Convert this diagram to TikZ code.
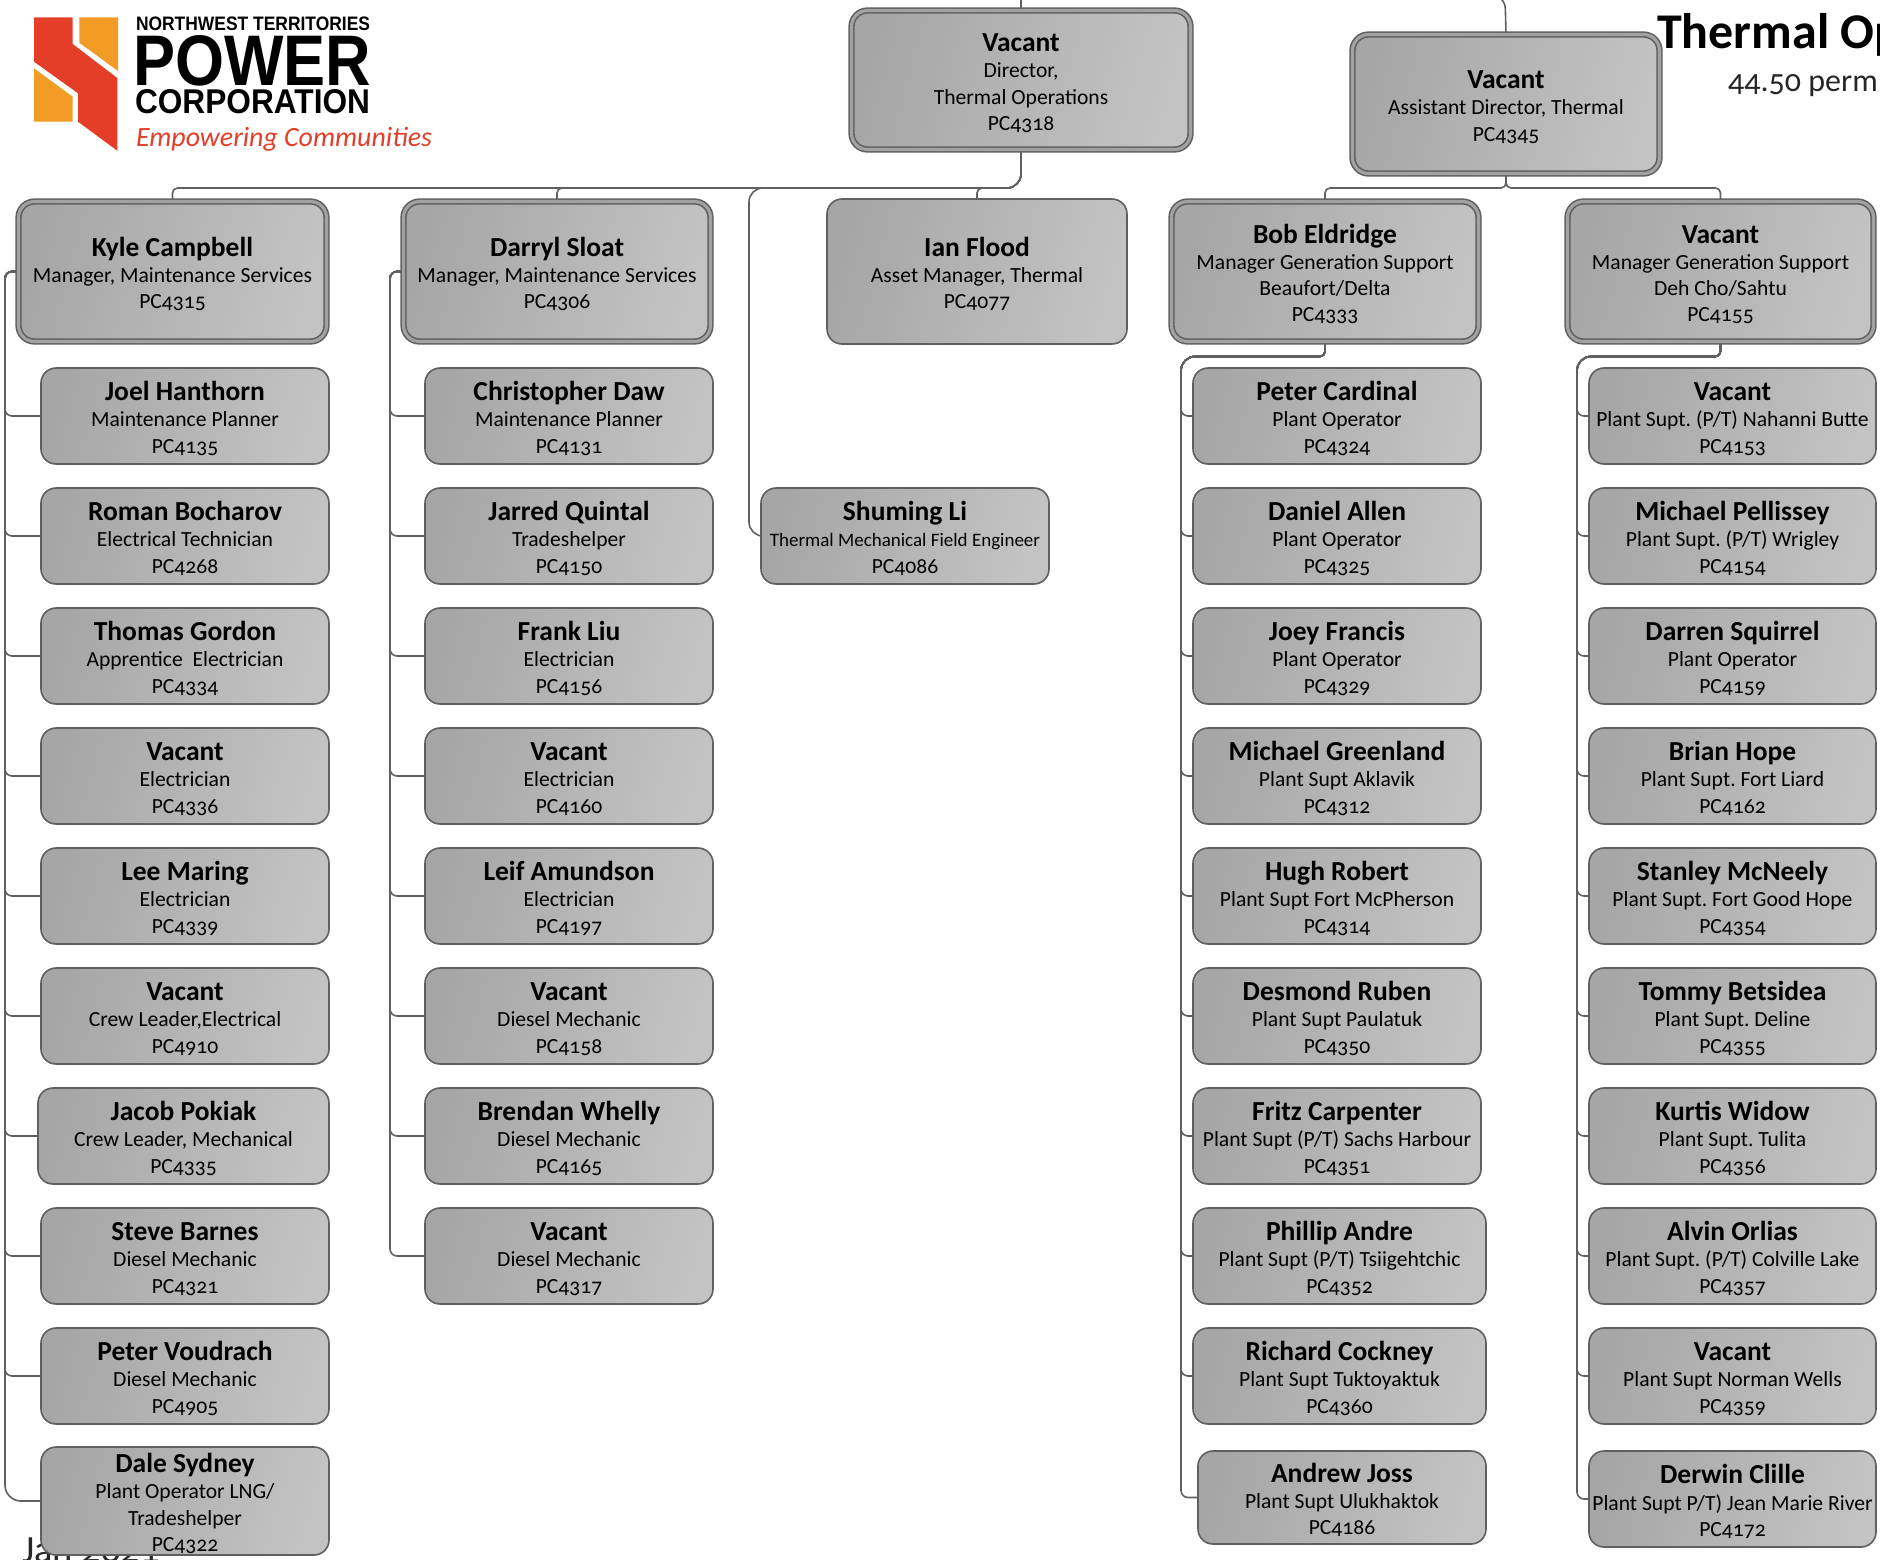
\documentclass[tikz,border=0pt]{standalone}
\usepackage{fontspec}
\setmainfont{Carlito}[Numbers=OldStyle]
\newfontfamily\logofont{Liberation Sans}
\usetikzlibrary{backgrounds}
\definecolor{framec}{HTML}{606060}
\definecolor{ringc}{HTML}{A2A2A2}
\definecolor{shadeL}{HTML}{A6A6A6}
\definecolor{shadeR}{HTML}{C3C3C3}
\definecolor{logored}{HTML}{E43D28}
\definecolor{logoorange}{HTML}{F39C25}
\newcommand{\nm}[1]{{\rule{0pt}{24pt}\fontsize{27.5}{26}\selectfont\bfseries #1}}
\tikzset{
  x=1pt,y=-1pt,
  orgbox/.style={draw=framec,line width=1.6pt,rounded corners=15pt,left color=shadeL,right color=shadeR,shading angle=75,
    inner sep=0pt,outer sep=0pt,align=center,text=black,font=\fontsize{21.6}{26.2}\selectfont\frenchspacing},
  parentbox/.style={orgbox,rounded corners=16pt,double=ringc,double distance=3.1pt},
  conn/.style={draw=framec,line width=1.6pt},
  logotext/.style={inner sep=0pt,outer sep=0pt,anchor=north west},
}
% id x1 y1 x2 y2 text
\newcommand{\cb}[6]{\node[orgbox,minimum width={(#4-#2)*1pt},minimum height={(#5-#3)*1pt}] (#1) at ({(#2+#4)/2},{(#3+#5)/2}) {#6};}
\newcommand{\pb}[6]{\node[parentbox,minimum width={(#4-#2-5)*1pt},minimum height={(#5-#3-5)*1pt}] (#1) at ({(#2+#4)/2},{(#3+#5)/2}) {#6};}
\begin{document}
\begin{tikzpicture}
\useasboundingbox (0,0) rectangle (1880,1559);
% logo
\fill[logored] (34,17.3) -- (72.7,17.3) -- (72.7,44) -- (117.3,78) -- (117.3,150.7) -- (78,121.7) -- (78,93.3) -- (34,61.7) -- cycle;
\fill[logoorange] (79.3,17.3) -- (118,17.3) -- (118,71) -- (79.3,42.7) -- cycle;
\fill[logoorange] (34,68.3) -- (72.7,96.7) -- (72.7,121.7) -- (34,121.7) -- cycle;
\node[logotext] (lg1) at (136,17.3) {\resizebox{234pt}{13.6pt}{\logofont\bfseries NORTHWEST TERRITORIES}};
\node[logotext] (lg2) at (133,35) {\resizebox{238pt}{50pt}{\logofont\bfseries POWER}};
\node[logotext] (lg3) at (135,89) {\resizebox{235pt}{24pt}{\logofont\bfseries CORPORATION}};
\node[logotext,text=logored,anchor=west] (lg4) at (136,139) {\resizebox{296pt}{!}{\itshape Empowering Communities}};
% title
\node[inner sep=0pt,anchor=base west,font=\fontsize{50}{54}\selectfont\bfseries] (title) at (1657,48) {Thermal Op};
\node[inner sep=0pt,anchor=base west,font=\fontsize{32}{36}\selectfont,text=black!85] (perm) at (1728,91) {44.50 perm};
\node[inner sep=0pt,anchor=base west,font=\fontsize{38.5}{42}\selectfont,text=black!85] (jan) at (22,1562) {Jan 2021};
% top
\pb{dir}{849}{8}{1193}{152}{\nm{Vacant}\\Director,\\Thermal Operations\\PC4318}
\pb{asst}{1350}{32}{1662}{176}{\nm{Vacant}\\Assistant Director, Thermal\\PC4345}
% managers
\pb{kyle}{16}{199}{329}{344}{\nm{Kyle Campbell}\\Manager, Maintenance Services\\PC4315}
\pb{darryl}{401}{199}{713}{344}{\nm{Darryl Sloat}\\Manager, Maintenance Services\\PC4306}
\cb{ian}{827}{199}{1127}{344}{\nm{Ian Flood}\\Asset Manager, Thermal\\PC4077}
\pb{bob}{1169}{199}{1481}{344}{\nm{Bob Eldridge}\\Manager Generation Support\\Beaufort/Delta\\PC4333}
\pb{vac}{1565}{199}{1876}{344}{\nm{Vacant}\\Manager Generation Support\\Deh Cho/Sahtu\\PC4155}
% column 1
\cb{a1}{41}{368}{329}{464}{\nm{Joel Hanthorn}\\Maintenance Planner\\PC4135}
\cb{a2}{41}{488}{329}{584}{\nm{Roman Bocharov}\\Electrical Technician\\PC4268}
\cb{a3}{41}{608}{329}{704}{\nm{Thomas Gordon}\\Apprentice\ \ Electrician\\PC4334}
\cb{a4}{41}{728}{329}{824}{\nm{Vacant}\\Electrician\\PC4336}
\cb{a5}{41}{848}{329}{944}{\nm{Lee Maring}\\Electrician\\PC4339}
\cb{a6}{41}{968}{329}{1064}{\nm{Vacant}\\Crew Leader,Electrical\\PC4910}
\cb{a7}{38}{1088}{329}{1184}{\nm{Jacob Pokiak}\\Crew Leader, Mechanical\\PC4335}
\cb{a8}{41}{1208}{329}{1304}{\nm{Steve Barnes}\\Diesel Mechanic\\PC4321}
\cb{a9}{41}{1328}{329}{1424}{\nm{Peter Voudrach}\\Diesel Mechanic\\PC4905}
\cb{a10}{41}{1447}{329}{1555}{\nm{Dale Sydney}\\Plant Operator LNG/\\Tradeshelper\\PC4322}
% column 2
\cb{b1}{425}{368}{713}{464}{\nm{Christopher Daw}\\Maintenance Planner\\PC4131}
\cb{b2}{425}{488}{713}{584}{\nm{Jarred Quintal}\\Tradeshelper\\PC4150}
\cb{b3}{425}{608}{713}{704}{\nm{Frank Liu}\\Electrician\\PC4156}
\cb{b4}{425}{728}{713}{824}{\nm{Vacant}\\Electrician\\PC4160}
\cb{b5}{425}{848}{713}{944}{\nm{Leif Amundson}\\Electrician\\PC4197}
\cb{b6}{425}{968}{713}{1064}{\nm{Vacant}\\Diesel Mechanic\\PC4158}
\cb{b7}{425}{1088}{713}{1184}{\nm{Brendan Whelly}\\Diesel Mechanic\\PC4165}
\cb{b8}{425}{1208}{713}{1304}{\nm{Vacant}\\Diesel Mechanic\\PC4317}
% Shuming
\cb{shu}{761}{488}{1049}{584}{\nm{Shuming Li}\\{\fontsize{19}{26.2}\selectfont Thermal Mechanical Field Engineer}\\PC4086}
% column 4
\cb{d1}{1193}{368}{1481}{464}{\nm{Peter Cardinal}\\Plant Operator\\PC4324}
\cb{d2}{1193}{488}{1481}{584}{\nm{Daniel Allen}\\Plant Operator\\PC4325}
\cb{d3}{1193}{608}{1481}{704}{\nm{Joey Francis}\\Plant Operator\\PC4329}
\cb{d4}{1193}{728}{1481}{824}{\nm{Michael Greenland}\\Plant Supt Aklavik\\PC4312}
\cb{d5}{1193}{848}{1481}{944}{\nm{Hugh Robert}\\Plant Supt Fort McPherson\\PC4314}
\cb{d6}{1193}{968}{1481}{1064}{\nm{Desmond Ruben}\\Plant Supt Paulatuk\\PC4350}
\cb{d7}{1193}{1088}{1481}{1184}{\nm{Fritz Carpenter}\\Plant Supt (P/T) Sachs Harbour\\PC4351}
\cb{d8}{1193}{1208}{1486}{1304}{\nm{Phillip Andre}\\Plant Supt (P/T) Tsiigehtchic\\PC4352}
\cb{d9}{1193}{1328}{1486}{1424}{\nm{Richard Cockney}\\Plant Supt Tuktoyaktuk\\PC4360}
\cb{d10}{1198}{1451}{1486}{1544}{\nm{Andrew Joss}\\Plant Supt Ulukhaktok\\PC4186}
% column 5
\cb{e1}{1589}{368}{1876}{464}{\nm{Vacant}\\Plant Supt. (P/T) Nahanni Butte\\PC4153}
\cb{e2}{1589}{488}{1876}{584}{\nm{Michael Pellissey}\\Plant Supt. (P/T) Wrigley\\PC4154}
\cb{e3}{1589}{608}{1876}{704}{\nm{Darren Squirrel}\\Plant Operator\\PC4159}
\cb{e4}{1589}{728}{1876}{824}{\nm{Brian Hope}\\Plant Supt. Fort Liard\\PC4162}
\cb{e5}{1589}{848}{1876}{944}{\nm{Stanley McNeely}\\Plant Supt. Fort Good Hope\\PC4354}
\cb{e6}{1589}{968}{1876}{1064}{\nm{Tommy Betsidea}\\Plant Supt. Deline\\PC4355}
\cb{e7}{1589}{1088}{1876}{1184}{\nm{Kurtis Widow}\\Plant Supt. Tulita\\PC4356}
\cb{e8}{1589}{1208}{1876}{1304}{\nm{Alvin Orlias}\\Plant Supt. (P/T) Colville Lake\\PC4357}
\cb{e9}{1589}{1328}{1876}{1424}{\nm{Vacant}\\Plant Supt Norman Wells\\PC4359}
\cb{e10}{1589}{1451}{1876}{1547}{\nm{Derwin Clille}\\Plant Supt P/T) Jean Marie River\\PC4172}
% connectors
\coordinate (bus) at (0,188);
\coordinate (bus2) at (0,356.5);
\coordinate (sa) at (5,0);
\coordinate (sb) at (390,0);
\coordinate (sc) at (749,0);
\coordinate (sd) at (1181,0);
\coordinate (se) at (1577,0);
\coordinate (topd) at (1021,-2);
\coordinate (topa) at (1505,-6);
\coordinate (topb) at (1470,-6);
\begin{scope}[on background layer]
\draw[conn] (dir.north) -- (topd);
\draw[conn,rounded corners=15pt] (asst.north) -- (topa) -- (topb);
\draw[conn] (dir.south) [rounded corners=14pt] -- (dir.south|-bus) [rounded corners=5pt] -- (kyle.north|-bus) -- (kyle.north);
\draw[conn] (dir.south) [rounded corners=14pt] -- (dir.south|-bus) [rounded corners=5pt] -- (darryl.north|-bus) -- (darryl.north);
\draw[conn] (dir.south) [rounded corners=14pt] -- (dir.south|-bus) [rounded corners=5pt] -- (ian.north|-bus) -- (ian.north);
\draw[conn] (dir.south) [rounded corners=14pt] -- (dir.south|-bus) -- (sc|-bus) -- (sc|-shu.west) [rounded corners=6pt] -- (shu.west);
\draw[conn,rounded corners=5pt] (asst.south) -- (asst.south|-bus) -- (bob.north|-bus) -- (bob.north);
\draw[conn,rounded corners=5pt] (asst.south) -- (asst.south|-bus) -- (vac.north|-bus) -- (vac.north);
\foreach \c in {a1,a2,a3,a4,a5,a6,a7,a8,a9}
  \draw[conn,rounded corners=7pt] (kyle.west) -- (sa|-kyle.west) -- (sa|-\c.west) -- (\c.west);
\draw[conn] (kyle.west) [rounded corners=7pt] -- (sa|-kyle.west) [rounded corners=16pt] -- (sa|-a10.west) -- (a10.west);
\foreach \c in {b1,b2,b3,b4,b5,b6,b7,b8}
  \draw[conn,rounded corners=7pt] (darryl.west) -- (sb|-darryl.west) -- (sb|-\c.west) -- (\c.west);
\foreach \c in {d1,d2,d3,d4,d5,d6,d7,d8,d9,d10}
  \draw[conn] (bob.south) [rounded corners=5pt] -- (bob.south|-bus2) [rounded corners=14pt] -- (sd|-bus2) [rounded corners=7pt] -- (sd|-\c.west) -- (\c.west);
\foreach \c in {e1,e2,e3,e4,e5,e6,e7,e8,e9,e10}
  \draw[conn] (vac.south) [rounded corners=5pt] -- (vac.south|-bus2) [rounded corners=14pt] -- (se|-bus2) [rounded corners=7pt] -- (se|-\c.west) -- (\c.west);
\end{scope}
\end{tikzpicture}
\end{document}
